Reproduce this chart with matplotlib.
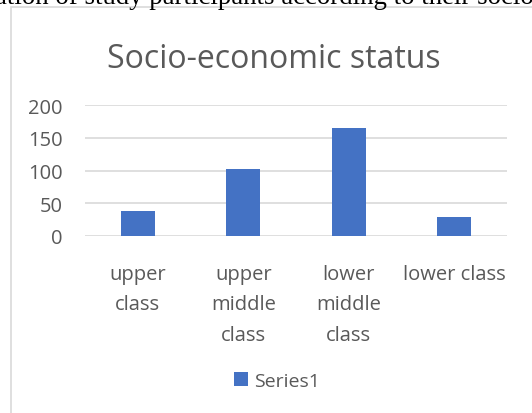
import matplotlib
matplotlib.use("Agg")
import matplotlib.pyplot as plt
from matplotlib.patches import Rectangle

categories = ["upper class", "upper middle class", "lower middle class", "lower class"]
tick_labels = ["upper\nclass", "upper\nmiddle\nclass", "lower\nmiddle\nclass", "lower class"]
values = [38, 102, 165, 29]
yticks = [0, 50, 100, 150, 200]

W, H = 532, 414
fig = plt.figure(figsize=(W / 100, H / 100), dpi=100)
plt.rcParams['font.family'] = ['Open Sans', 'DejaVu Sans']
grey = '#595959'

# caption text cut at top
fig.text(264 / W, 1 - 4 / H, "ation of study participants according to their socio",
         ha='center', va='baseline', fontsize=19.3, family=['Liberation Serif'], color='black')

# chart border
fig.patches.append(Rectangle((10.5 / W, -0.05), 1.2, (H - 7.5) / H + 0.05,
                             transform=fig.transFigure, fill=False,
                             edgecolor='#d9d9d9', linewidth=1.2))

ax = fig.add_axes([85 / W, 1 - 237 / H, (507 - 85) / W, (237 - 106) / H])
x = list(range(len(categories)))
ax.bar(x, values, width=0.32, color='#4472c4', label='Series1', zorder=3)
ax.set_xlim(-0.5, len(categories) - 0.5)
ax.set_ylim(0, 200)
ax.set_yticks(yticks)
ax.set_yticklabels([str(v) for v in yticks], fontsize=14.5, color=grey)
ax.set_xticks(x)
ax.set_xticklabels(tick_labels, fontsize=14.5, color=grey, linespacing=1.7, va='top')
ax.tick_params(axis='both', length=0)
ax.tick_params(axis='x', pad=20)
ax.tick_params(axis='y', pad=16)
ax.grid(axis='y', color='#d9d9d9', linewidth=1.2, zorder=0)
for s in ax.spines.values():
    s.set_visible(False)

fig.text(274 / W, 1 - 59 / H, "Socio-economic status", ha='center', va='center',
         fontsize=23, color=grey)

leg = fig.legend(loc='center', bbox_to_anchor=(277 / W, 1 - 382 / H), frameon=False,
                 fontsize=14, handlelength=0.75, handleheight=0.75, handletextpad=0.3,
                 labelcolor=grey)

fig.savefig("out.png", dpi=100)
